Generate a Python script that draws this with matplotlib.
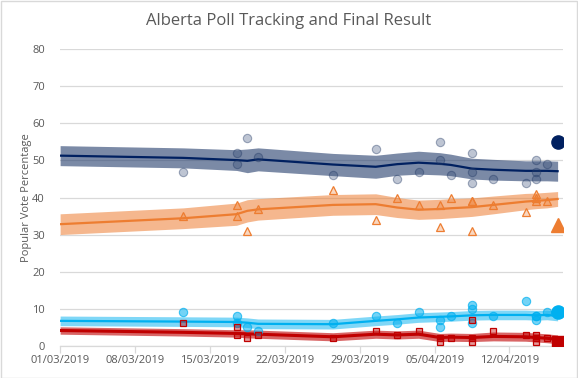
import numpy as np
import matplotlib
matplotlib.use('Agg')
import matplotlib.pyplot as plt
import matplotlib.dates as mdates
from matplotlib.patches import Rectangle

plt.rcParams['font.family'] = ['Open Sans', 'DejaVu Sans']

# Poll data (field date, one row per poll)
poll_dates = ['2019-03-12', '2019-03-17', '2019-03-17', '2019-03-18', '2019-03-19',
              '2019-03-26', '2019-03-30', '2019-04-01', '2019-04-03', '2019-04-05',
              '2019-04-05', '2019-04-06', '2019-04-08', '2019-04-08', '2019-04-08',
              '2019-04-10', '2019-04-13', '2019-04-14', '2019-04-14', '2019-04-14',
              '2019-04-15']
ucp = [47, 52, 49, 56, 51, 46, 53, 45, 47, 55, 50, 46, 52, 47, 44, 45, 44, 50, 47, 45, 49]
ndp = [35, 38, 35, 31, 37, 42, 34, 40, 38, 32, 38, 40, 31, 39, 39, 38, 36, 40, 41, 39, 39]
ap = [9, 8, 6, 5, 4, 6, 8, 6, 9, 7, 5, 8, 6, 10, 11, 8, 12, 8, 7, 8, 9]
lib = [6, 5, 3, 2, 3, 2, 4, 3, 4, 2, 1, 2, 7, 2, 1, 4, 3, 3, 2, 1, 2]

# Final result (election day)
final_date = '2019-04-16'
final_ucp, final_ndp, final_ap, final_lib = 54.9, 32.7, 9.1, 1.0

# Trend lines and band half-widths
trend_dates = ['2019-03-01 00:00', '2019-03-12 12:00', '2019-03-17 12:00', '2019-03-18 12:00',
               '2019-03-19 12:00', '2019-03-26 12:00', '2019-03-30 12:00', '2019-04-01 12:00',
               '2019-04-03 12:00', '2019-04-05 12:00', '2019-04-06 12:00', '2019-04-08 12:00',
               '2019-04-10 12:00', '2019-04-13 12:00', '2019-04-14 12:00', '2019-04-15 12:00',
               '2019-04-16 12:00']
ucp_trend = [51.3, 50.7, 50.1, 49.9, 50.3, 48.9, 48.3, 49.0, 49.4, 49.1, 48.8, 47.8, 47.5, 47.2, 47.2, 47.2, 47.1]
ucp_band = [2.7, 2.7, 2.8, 3.2, 3.1, 3.0, 3.1, 3.0, 3.1, 3.0, 2.9, 2.8, 2.8, 2.7, 2.7, 2.7, 2.7]
ndp_trend = [32.8, 34.4, 35.5, 36.4, 36.8, 38.0, 38.2, 37.3, 36.7, 36.9, 37.1, 37.4, 38.0, 38.9, 39.1, 39.3, 39.6]
ndp_band = [2.8, 2.8, 3.0, 3.0, 2.9, 2.8, 2.8, 2.7, 2.6, 2.6, 2.6, 2.5, 2.4, 2.2, 2.1, 2.1, 2.0]
ap_trend = [6.7, 6.5, 6.4, 6.2, 5.9, 5.8, 6.7, 7.1, 7.6, 7.8, 7.9, 8.2, 8.3, 8.3, 8.2, 8.3, 8.0]
ap_band = [1.3, 1.3, 1.3, 1.3, 1.3, 1.3, 1.3, 1.3, 1.3, 1.3, 1.3, 1.3, 1.3, 1.3, 1.3, 1.3, 1.3]
lib_trend = [4.1, 3.6, 3.3, 3.2, 3.1, 2.4, 3.1, 2.9, 3.1, 2.2, 2.3, 2.2, 2.5, 2.4, 2.2, 2.0, 1.7]
lib_band = [1.0, 1.0, 1.0, 1.1, 1.1, 1.1, 1.1, 1.1, 1.1, 1.1, 1.1, 1.1, 1.2, 1.2, 1.2, 1.2, 1.2]

# x positions: polls plotted at the middle of their day
px = np.array(poll_dates, dtype='datetime64[h]') + np.timedelta64(12, 'h')
fx = np.array([final_date], dtype='datetime64[h]') + np.timedelta64(12, 'h')
tx = np.array(trend_dates, dtype='datetime64[m]')

grey = '#595959'
fig = plt.figure(figsize=(5.78, 3.78), dpi=100)
ax = fig.add_axes([0.104, 0.0855, 0.870, 0.784])

series = [
    (ucp, final_ucp, ucp_trend, ucp_band, '#002060', '#2A4270', 'o', 0.62),
    (ndp, final_ndp, ndp_trend, ndp_band, '#ED7D31', '#ED7D31', '^', 0.55),
    (ap, final_ap, ap_trend, ap_band, '#00B0F0', '#00B0F0', 'o', 0.5),
    (lib, final_lib, lib_trend, lib_band, '#C00000', '#C00000', 's', 0.6),
]

for vals, fin, tr, bw, col, bandcol, mk, balpha in series:
    tr = np.array(tr)
    bw = np.array(bw)
    ax.fill_between(tx, tr - bw, tr + bw, color=bandcol, alpha=balpha, lw=0, zorder=2)
    ax.plot(tx, tr, color=col, lw=1.6 if mk != 's' else 2.2, zorder=3)
    if col == '#002060':
        ax.plot(px, vals, ls='none', marker=mk, ms=6, mfc=(0.16, 0.26, 0.44, 0.3),
                mec=(0.13, 0.22, 0.39, 0.4), mew=0.8, zorder=4)
    elif col == '#00B0F0':
        ax.plot(px, vals, ls='none', marker=mk, ms=6, mfc=(0.0, 0.69, 0.94, 0.55),
                mec=(0.0, 0.69, 0.94, 0.7), mew=0.8, zorder=4)
    elif col == '#ED7D31':
        ax.plot(px, vals, ls='none', marker=mk, ms=5.5, mfc=(0.93, 0.49, 0.19, 0.3),
                mec=col, mew=0.9, zorder=4)
    else:
        ax.plot(px, vals, ls='none', marker=mk, ms=5, mfc=(0.75, 0.0, 0.0, 0.4),
                mec=col, mew=0.9, zorder=4)
    ax.plot(fx, [fin], ls='none', marker=mk, ms=9.5 if mk != 's' else 8.5,
            color=col, zorder=5)

ax.set_ylim(0, 80)
ax.set_xlim(np.datetime64('2019-03-01'), np.datetime64('2019-04-17'))
ax.set_yticks(range(0, 81, 10))
ax.set_xticks(np.array(['2019-03-01', '2019-03-08', '2019-03-15', '2019-03-22',
                        '2019-03-29', '2019-04-05', '2019-04-12'], dtype='datetime64[D]'))
ax.xaxis.set_major_formatter(mdates.DateFormatter('%d/%m/%Y'))

ax.grid(axis='y', color='#D9D9D9', lw=0.9, zorder=1)
ax.set_axisbelow(True)
for s in ['top', 'right', 'left']:
    ax.spines[s].set_visible(False)
ax.spines['bottom'].set_color('#D9D9D9')
ax.spines['bottom'].set_linewidth(0.9)
ax.tick_params(axis='y', length=0, pad=11, labelsize=8, labelcolor=grey)
ax.tick_params(axis='x', length=5, width=0.9, color='#D9D9D9', pad=2, labelsize=8, labelcolor=grey)

ax.set_ylabel('Popular Vote Percentage', fontsize=8, color=grey)
ax.yaxis.set_label_coords(-0.056, 0.5)
fig.text(0.5, 0.945, 'Alberta Poll Tracking and Final Result', ha='center', va='center',
         fontsize=12, color=grey)

fig.patches.append(Rectangle((0.001, 0.001), 0.997, 0.997, transform=fig.transFigure,
                             fill=False, edgecolor='#D9D9D9', lw=1))

fig.savefig('out.png', dpi=100)
